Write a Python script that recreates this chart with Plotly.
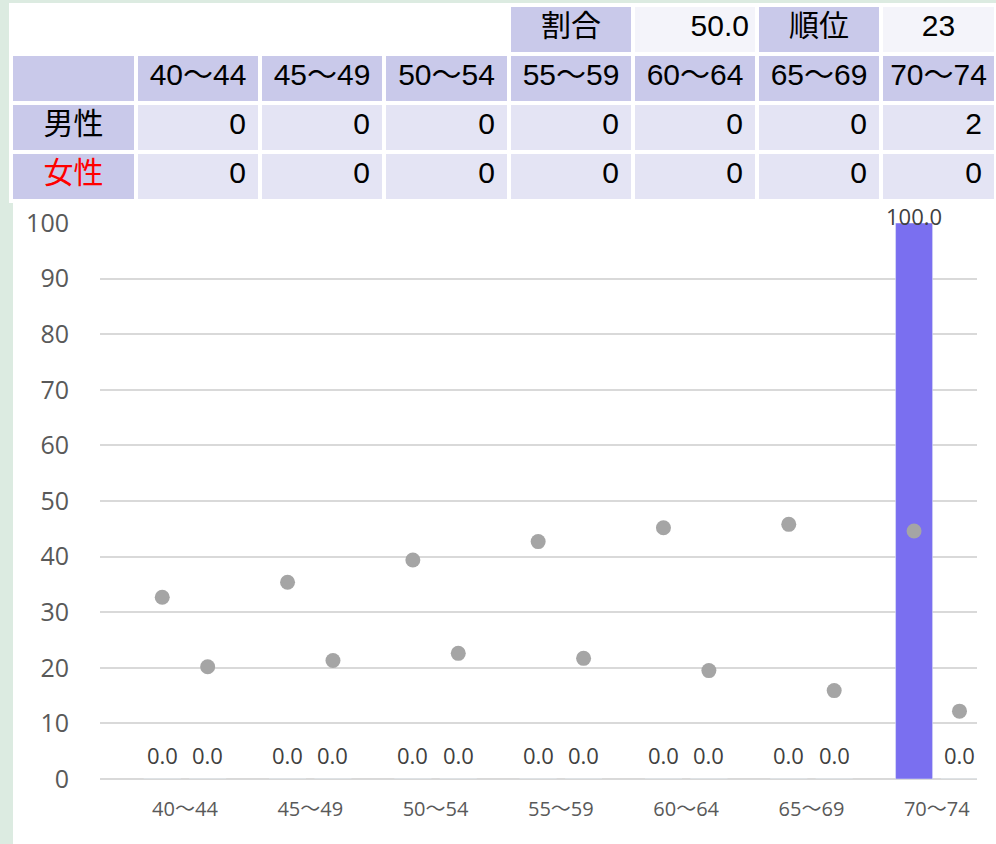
import plotly.graph_objects as go

# ---------------- data ----------------
ages = ["40～44", "45～49", "50～54", "55～59", "60～64", "65～69", "70～74"]
male_rate = [0.0, 0.0, 0.0, 0.0, 0.0, 0.0, 100.0]
female_rate = [0.0, 0.0, 0.0, 0.0, 0.0, 0.0, 0.0]
male_avg = [32.7, 35.4, 39.4, 42.7, 45.2, 45.8, 44.6]
female_avg = [20.2, 21.3, 22.6, 21.7, 19.5, 15.9, 12.2]
male_count = [0, 0, 0, 0, 0, 0, 2]
female_count = [0, 0, 0, 0, 0, 0, 0]
ratio_label, ratio_value = "割合", 50.0
rank_label, rank_value = "順位", 23
row_labels = ["男性", "女性"]
y_ticks = list(range(0, 101, 10))

# ---------------- style ----------------
W, H = 996, 844
GREEN = "#DCEBE1"
PURPLE = "#C9C9EA"
LIGHT = "#E4E4F4"
LIGHTER = "#F4F4FA"
BAR = "#7A6FF0"
DOT = "#A5A5A5"
GRID = "#D9D9D9"
TFONT = "Liberation Sans, Noto Sans CJK JP, sans-serif"
CFONT = "Open Sans, Noto Sans CJK JP, sans-serif"
PADR = "\u2009"  # small right padding in numeric cells

def px_x(p):
    return p / W

def px_y(p):
    return (H - p) / H

colw = [125, 124, 124, 125, 124, 124, 124, 115]
tbl_x = [px_x(11), 1.0]

fig = go.Figure()

# Chart: bars
fig.add_trace(go.Bar(x=ages, y=male_rate, name="男性", marker_color=BAR,
                     offsetgroup="m", showlegend=False))
fig.add_trace(go.Bar(x=ages, y=female_rate, name="女性", marker_color="#FF7C80",
                     offsetgroup="f", showlegend=False))
# Chart: reference points
fig.add_trace(go.Scatter(x=ages, y=male_avg, mode="markers", offsetgroup="m",
                         marker=dict(color=DOT, size=15), showlegend=False))
fig.add_trace(go.Scatter(x=ages, y=female_avg, mode="markers", offsetgroup="f",
                         marker=dict(color=DOT, size=15), showlegend=False))

# Data labels
ann = []
for vals, shift in ((male_rate, -22.7), (female_rate, 22.7)):
    for a, v in zip(ages, vals):
        ann.append(dict(x=a, y=v, xref="x", yref="y", text=f"{v:.1f}",
                        showarrow=False, xshift=shift,
                        yshift=24 if v < 97 else 7,
                        font=dict(family=CFONT, size=22, color="#404040")))

# Table row 0 (ratio / rank)
row0_vals = ["", "", "", "", ratio_label, f"{ratio_value:.1f}", rank_label, str(rank_value)]
fig.add_trace(go.Table(
    domain=dict(x=tbl_x, y=[px_y(57), px_y(5)]),
    columnwidth=colw,
    header=dict(values=row0_vals,
                fill_color=["white"] * 4 + [PURPLE, LIGHTER, PURPLE, LIGHTER],
                line=dict(color="white", width=4),
                align=["center"] * 5 + ["right", "center", "center"],
                height=49,
                font=dict(family=TFONT, size=30, color="black")),
    cells=dict(values=[[] for _ in range(8)], height=49,
               line=dict(color="white", width=4)),
))

# Table rows 1-3 (ages / counts)
cell_vals = [row_labels] + [[f"{m}{PADR}", f"{f}{PADR}"] for m, f in zip(male_count, female_count)]
fig.add_trace(go.Table(
    domain=dict(x=tbl_x, y=[px_y(212), px_y(54)]),
    columnwidth=colw,
    header=dict(values=[""] + ages,
                fill_color=PURPLE,
                line=dict(color="white", width=4),
                align="center", height=49,
                font=dict(family=TFONT, size=30, color="black")),
    cells=dict(values=cell_vals,
               fill_color=[[PURPLE, PURPLE]] + [[LIGHT, LIGHT]] * 7,
               line=dict(color="white", width=4),
               align=["center"] + ["right"] * 7,
               height=49,
               font=dict(family=TFONT, size=30,
                         color=[["black", "red"]] + [["black", "black"]] * 7)),
))

fig.update_layout(
    width=W, height=H, autosize=False,
    margin=dict(l=0, r=0, t=0, b=0, pad=0, autoexpand=False),
    paper_bgcolor=GREEN,
    plot_bgcolor="white",
    barmode="group", bargap=0.275, bargroupgap=0.185,
    scattermode="group", scattergap=0.275,
    shapes=[dict(type="rect", xref="paper", yref="paper",
                 x0=px_x(13), x1=1.0, y0=0, y1=px_y(6),
                 fillcolor="white", line=dict(width=0), layer="below")],
    annotations=ann,
    xaxis=dict(domain=[px_x(100), px_x(977)], range=[-0.678, 6.321],
               automargin=False,
               showgrid=False, zeroline=False, showline=False,
               tickfont=dict(family=CFONT, size=20, color="#595959"),
               ticklabelstandoff=16),
    yaxis=dict(domain=[px_y(779), px_y(223)], range=[0, 100],
               automargin=False,
               tickvals=y_ticks, showgrid=True, gridcolor=GRID, gridwidth=1.5,
               zeroline=True, zerolinecolor=GRID, zerolinewidth=1.5,
               tickfont=dict(family=CFONT, size=25, color="#595959"),
               ticklabelstandoff=30),
)

fig.write_html("out.html",
               config={"displayModeBar": False},
               post_script="document.body.style.margin='0px';"
                           "document.body.style.overflow='hidden';")
